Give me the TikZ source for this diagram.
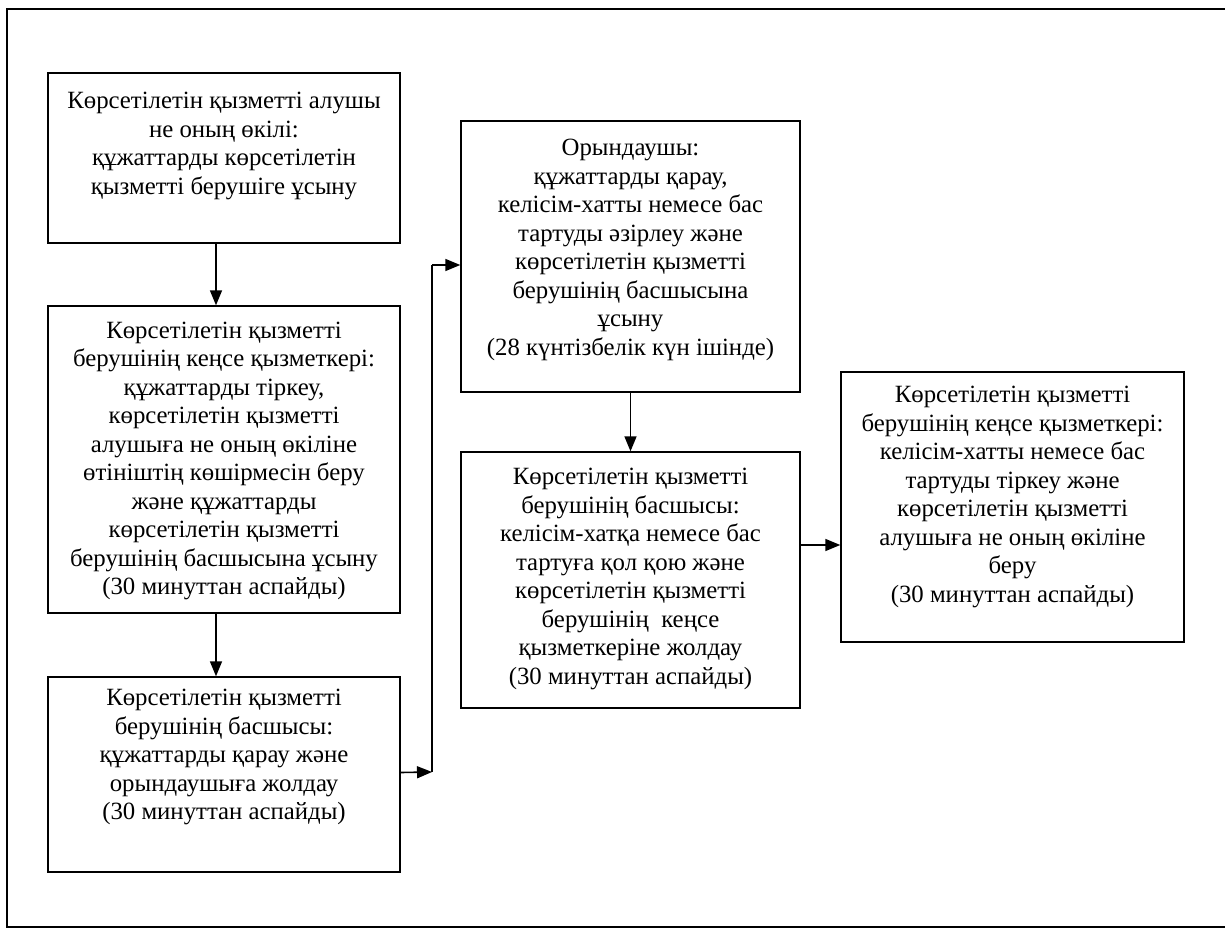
\documentclass[tikz,border=0pt]{standalone}
\usepackage{fontspec}
\setmainfont{Liberation Serif}
\usetikzlibrary{arrows.meta}

\tikzset{
  stepbox/.style={draw, line width=0.7pt, minimum width=176pt, inner sep=0pt},
  steptext/.style={align=center, inner sep=0pt, font=\fontsize{12.4}{14.25}\selectfont},
  arr/.style={line width=0.8pt, -{Triangle[length=7.5pt,width=6pt]}}
}

\begin{document}
\begin{tikzpicture}[x=0.5pt, y=-0.5pt]
 \useasboundingbox (0,0) rectangle (1225,930);
 % frame (right side runs off the page)
 \draw[line width=0.7pt] (1225,9) -- (7,9) -- (7,927) -- (1225,927);

 % left column
 \node[stepbox, minimum height=85pt] (B1) at (224,158) {};
 \node[steptext] (T1) at (224,146) {Көрсетілетін қызметті алушы\\ не оның өкілі:\\ құжаттарды көрсетілетін\\ қызметті берушіге ұсыну};

 \node[stepbox, minimum height=153.5pt] (B2) at (224,459.5) {};
 \node[steptext] (T2) at (224,461) {Көрсетілетін қызметті\\ берушінің кеңсе қызметкері:\\ құжаттарды тіркеу,\\ көрсетілетін қызметті\\ алушыға не оның өкіліне\\ өтініштің көшірмесін беру\\ және құжаттарды\\ көрсетілетін қызметті\\ берушінің басшысына ұсыну\\ (30 минуттан аспайды)};

 \node[stepbox, minimum height=97.5pt] (B3) at (224,774.5) {};
 \node[steptext] (T3) at (224,757) {Көрсетілетін қызметті\\ берушінің басшысы:\\ құжаттарды қарау және\\ орындаушыға жолдау\\ (30 минуттан аспайды)};

 % middle column
 \node[stepbox, minimum width=169.5pt, minimum height=135.5pt] (B4) at (630.5,256.5) {};
 \node[steptext] (T4) at (630.5,250) {Орындаушы:\\ құжаттарды қарау,\\ келісім-хатты немесе бас\\ тартуды әзірлеу және\\ көрсетілетін қызметті\\ берушінің басшысына\\ ұсыну\\ (28 күнтізбелік күн ішінде)};

 \node[stepbox, minimum width=169.5pt, minimum height=128pt] (B5) at (630.5,580) {};
 \node[steptext] (T5) at (630.5,579) {Көрсетілетін қызметті\\ берушінің басшысы:\\ келісім-хатқа немесе бас\\ тартуға қол қою және\\ көрсетілетін қызметті\\ берушінің~ кеңсе\\ қызметкеріне жолдау\\ (30 минуттан аспайды)};

 % right column
 \node[stepbox, minimum width=171.5pt, minimum height=135pt] (B6) at (1012.5,507) {};
 \node[steptext] (T6) at (1012.5,497) {Көрсетілетін қызметті\\ берушінің кеңсе қызметкері:\\ келісім-хатты немесе бас\\ тартуды тіркеу және\\ көрсетілетін қызметті\\ алушыға не оның өкіліне\\ беру\\ (30 минуттан аспайды)};

 % arrows
 \draw[arr] ([xshift=-4pt]B1.south) -- ([xshift=-4pt]B2.north);
 \draw[arr] ([xshift=-4pt]B2.south) -- ([xshift=-4pt]B3.north);

 \coordinate (up1) at (432,772);
 \coordinate (up2) at (432,265);
 \draw[arr] ([yshift=1pt]B3.east) -- (up1);
 \draw[line width=0.8pt] (up1) -- (up2);
 \draw[arr] (up2) -- (up2 -| B4.west);

 \draw[arr] (B4.south) -- (B5.north);
 \draw[arr] ([yshift=17.5pt]B5.east) -- ([yshift=17.5pt]B5.east -| B6.west);
\end{tikzpicture}
\end{document}
